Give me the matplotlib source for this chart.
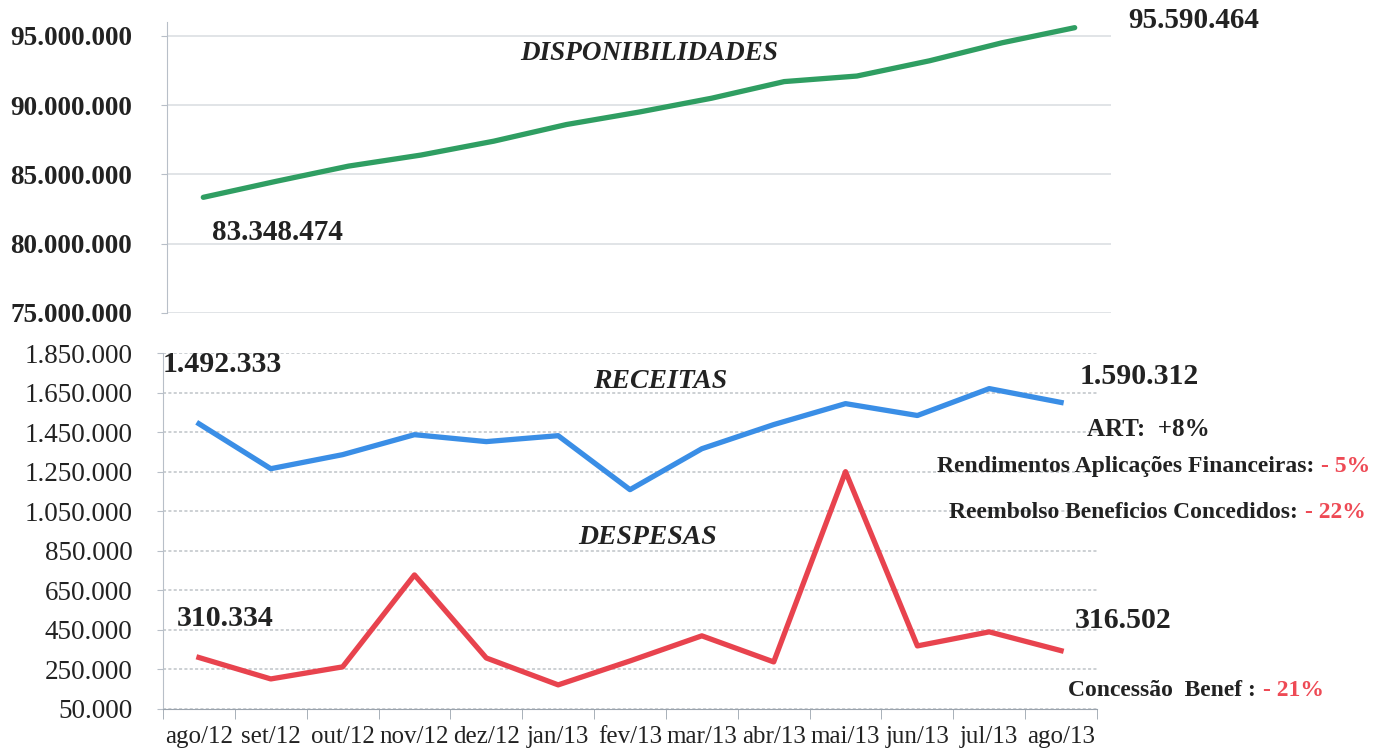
import matplotlib
matplotlib.use("Agg")
import matplotlib.pyplot as plt
from matplotlib.ticker import FuncFormatter

# Dados
meses = ["ago/12", "set/12", "out/12", "nov/12", "dez/12", "jan/13", "fev/13",
         "mar/13", "abr/13", "mai/13", "jun/13", "jul/13", "ago/13"]
disponibilidades = [83348474, 84500000, 85600000, 86400000, 87400000, 88600000, 89500000,
                    90500000, 91700000, 92100000, 93200000, 94500000, 95590464]
receitas = [1492333, 1265000, 1336000, 1437000, 1402000, 1432000, 1159000,
            1366000, 1488000, 1594000, 1534000, 1670000, 1600000]
despesas = [310334, 202000, 263000, 728000, 308000, 172000, 293000,
            420000, 288000, 1250000, 369000, 440000, 345000]

rotulos_disp = ["83.348.474", "95.590.464"]
rotulos_rec = ["1.492.333", "1.590.312"]
rotulos_desp = ["310.334", "316.502"]

plt.rcParams['font.family'] = ['Liberation Serif', 'DejaVu Serif']

VERDE = "#2f9e62"
AZUL = "#3a8ee6"
VERMELHO = "#e8434e"
VERM_TXT = "#ee4a55"
GRADE = "#dcdfe3"

fig = plt.figure(figsize=(13.95, 7.52), dpi=100)
W, H = 1395.0, 752.0

def fx(x):
    return x / W

def fy(y):
    return 1 - y / H

fmt = FuncFormatter(lambda v, p: f"{v:,.0f}".replace(",", "."))
x = list(range(len(meses)))

# ---- Painel superior: disponibilidades
ax1 = fig.add_axes([fx(167), fy(313), fx(1111) - fx(167), fy(22) - fy(313)])
ax1.plot(x, disponibilidades, color=VERDE, linewidth=3.8, solid_capstyle='round')
ax1.set_xlim(-0.5, 12.5)
ax1.set_ylim(75000000, 96000000)
ax1.set_yticks([75000000, 80000000, 85000000, 90000000, 95000000])
ax1.yaxis.set_major_formatter(fmt)
ax1.set_xticks([])
ax1.grid(axis='y', color=GRADE, linewidth=1.2)
for s in ["top", "right", "bottom"]:
    ax1.spines[s].set_visible(False)
ax1.spines["left"].set_color("#b8bfc8")
ax1.tick_params(axis='y', length=4, color="#b8bfc8", labelsize=19.5, pad=21)
for lb in ax1.get_yticklabels():
    lb.set_fontweight("bold")
    lb.set_color("#222222")

fig.text(fx(649), fy(53), "DISPONIBILIDADES", fontsize=19.5, fontweight="bold",
         fontstyle="italic", ha="center", va="center", color="#222222")
fig.text(fx(212), fy(233), rotulos_disp[0], fontsize=21, fontweight="bold",
         ha="left", va="center", color="#222222")
fig.text(fx(1128), fy(20), rotulos_disp[1], fontsize=21, fontweight="bold",
         ha="left", va="center", color="#222222")

# ---- Painel inferior: receitas e despesas
ax2 = fig.add_axes([fx(163), fy(709), fx(1097) - fx(163), fy(353) - fy(709)])
ax2.plot(x, receitas, color=AZUL, linewidth=3.8)
ax2.plot(x, despesas, color=VERMELHO, linewidth=3.8)
ax2.set_xlim(-0.5, 12.5)
ax2.set_ylim(50000, 1850000)
ax2.set_yticks(range(50000, 1850001, 200000))
ax2.yaxis.set_major_formatter(fmt)
ax2.set_xticks(x)
ax2.set_xticklabels(meses)
ax2.set_xticks([i - 0.5 for i in range(len(meses) + 1)], minor=True)
ax2.tick_params(axis='x', which='major', length=0, labelsize=18, pad=12)
ax2.tick_params(axis='x', which='minor', length=7, color="#9aa3ad")
ax2.tick_params(axis='y', length=4, color="#b8bfc8", labelsize=19.5, pad=18)
ax2.grid(axis='y', color="#bfc3c8", linewidth=1.1, linestyle=(0, (2, 1.5)))
for s in ["top", "right"]:
    ax2.spines[s].set_visible(False)
ax2.spines["left"].set_color("#b8bfc8")
ax2.spines["bottom"].set_color("#9aa3ad")
for lb in ax2.get_yticklabels() + ax2.get_xticklabels():
    lb.set_color("#222222")

fig.text(fx(163), fy(365), rotulos_rec[0], fontsize=21.5, fontweight="bold",
         ha="left", va="center", color="#222222")
fig.text(fx(1080), fy(377), rotulos_rec[1], fontsize=21.5, fontweight="bold",
         ha="left", va="center", color="#222222")
fig.text(fx(177), fy(618), rotulos_desp[0], fontsize=21.5, fontweight="bold",
         ha="left", va="center", color="#222222")
fig.text(fx(1075), fy(620), rotulos_desp[1], fontsize=21.5, fontweight="bold",
         ha="left", va="center", color="#222222")

fig.text(fx(660), fy(382), "RECEITAS", fontsize=20, fontweight="bold",
         fontstyle="italic", ha="center", va="center", color="#222222")
fig.text(fx(648), fy(537), "DESPESAS", fontsize=20, fontweight="bold",
         fontstyle="italic", ha="center", va="center", color="#222222")

fig.text(fx(1148), fy(430), "ART:  +8%", fontsize=18, fontweight="bold",
         ha="center", va="center", color="#222222")

# textos com parte em vermelho
notas = [
    ("Rendimentos Aplicações Financeiras:", "- 5%", 1314, 467),
    ("Reembolso Beneficios Concedidos:", "- 22%", 1298, 512),
    ("Concessão  Benef :", "- 21%", 1256, 690),
]
for preto, verm, xs, ys in notas:
    fig.text(fx(xs), fy(ys), preto, fontsize=17, fontweight="bold",
             ha="right", va="center", color="#222222")
    fig.text(fx(xs + 7), fy(ys), verm, fontsize=17, fontweight="bold",
             ha="left", va="center", color=VERM_TXT)

fig.savefig("out.png", dpi=100)
